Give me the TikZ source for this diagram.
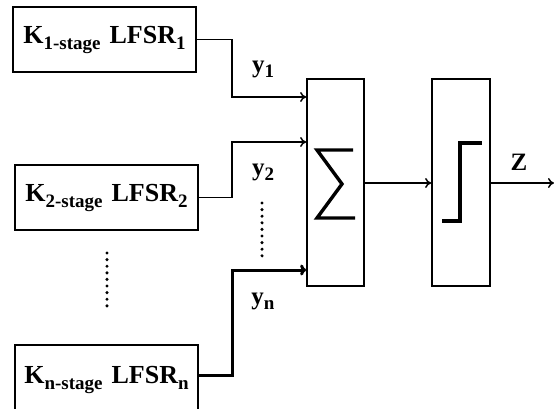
\documentclass[tikz,border=0pt]{standalone}
\usepackage{fontspec}
\setmainfont{Liberation Serif}
\usetikzlibrary{arrows.meta}
\newcommand{\sbs}[1]{\raisebox{-6pt}{\fontsize{19}{19}\selectfont #1}}
\newcommand{\ysbs}[1]{\raisebox{-5pt}{\fontsize{19}{19}\selectfont #1}}
\tikzset{
  lfsrbox/.style={draw, line width=1.8pt, minimum width=183pt, minimum height=65pt, inner sep=0pt,
    font=\fontsize{26}{30}\selectfont\bfseries},
  opbox/.style={draw, line width=1.8pt, minimum height=207pt, inner sep=0pt},
  conn/.style={line width=1.5pt, -{To[length=6pt,width=10pt]}},
  thickconn/.style={line width=3pt, -{To[length=6pt,width=11pt]}},
  lbl/.style={font=\fontsize{25}{28}\selectfont\bfseries, inner sep=0pt},
  dotline/.style={line width=3.4pt, line cap=round, dash pattern=on 0pt off 6.6pt},
  glyph/.style={line width=3.4pt}
}
\begin{document}
\begin{tikzpicture}[x=1pt,y=-1pt]
\clip (0,0) rectangle (554,409);
\useasboundingbox (0,0) rectangle (554,409);
% LFSR boxes
\node[lfsrbox] (b1) at (104.5,39.5) {K\sbs{1-stage}\hspace{9pt}LFSR\sbs{1}};
\node[lfsrbox] (b2) at (106.5,197.5) {K\sbs{2-stage}\hspace{9pt}LFSR\sbs{2}};
\node[lfsrbox, minimum height=70pt] (b3) at (106.5,380) {\raisebox{5pt}{K\sbs{n-stage}\hspace{9pt}LFSR\sbs{n}}};
% operator boxes
\node[opbox, minimum width=57pt] (sum) at (335.5,182.5) {};
\node[opbox, minimum width=58pt] (thr) at (461,182.5) {};
% input coordinates on sum box
\coordinate (i1) at (sum.west |- 0,97);
\coordinate (i2) at (sum.west |- 0,142);
\coordinate (i3) at (sum.west |- 0,270);
\coordinate (out) at (554,183);
% connectors
\draw[conn] (b1.east) -- (232,39.5) |- (i1);
\draw[conn] (b2.east) -- (232,197.5) |- (i2);
\draw[thickconn] (b3.east |- 0,375) -- (232,375) |- (i3);
\draw[conn] (sum.east |- 0,183) -- (thr.west |- 0,183);
\draw[conn] (thr.east |- 0,183) -- (out);
% labels
\node[lbl] (y1) at (263,69) {y\ysbs{1}};
\node[lbl] (y2) at (263,172) {y\ysbs{2}};
\node[lbl] (yn) at (263,301) {y\ysbs{n}};
\node[lbl] (z) at (519,162) {Z};
% dots
\draw[dotline] (262,203) -- (262,256);
\draw[dotline] (107,253) -- (107,306);
% sigma glyph
\draw[glyph, line join=miter] (353,150) -- (317,150) -- (342,184) -- (317,218) -- (355,218);
% step glyph
\draw[glyph] (442,221) -- (460,221) -- (460,143) -- (482,143);
\end{tikzpicture}
\end{document}
